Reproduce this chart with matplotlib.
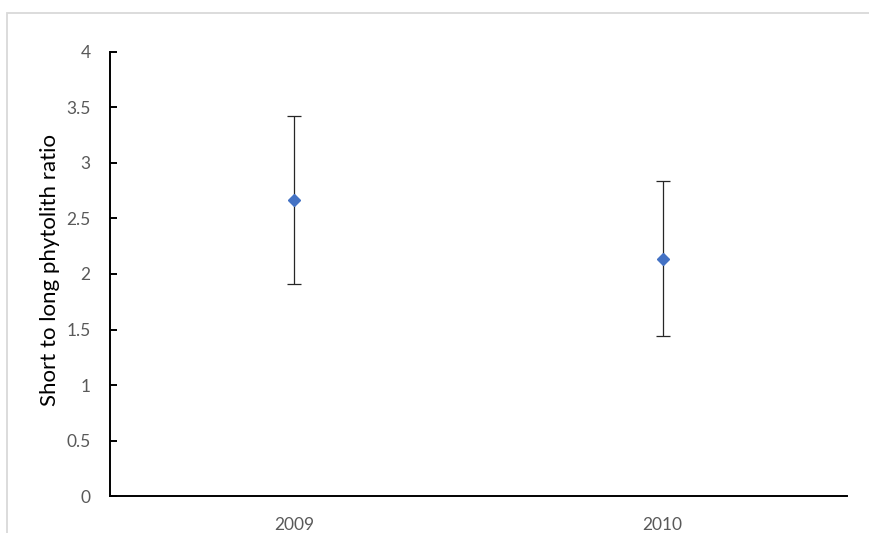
import matplotlib
matplotlib.use("Agg")
import matplotlib.pyplot as plt
from matplotlib.patches import Rectangle

years = ["2009", "2010"]
ratio_mean = [2.666, 2.138]
ratio_err = [0.757, 0.696]
y_ticks = [0, 0.5, 1, 1.5, 2, 2.5, 3, 3.5, 4]
y_tick_labels = ["0", "0.5", "1", "1.5", "2", "2.5", "3", "3.5", "4"]

plt.rcParams['font.family'] = ['Lato', 'DejaVu Sans']

W, H = 869, 533
fig = plt.figure(figsize=(W / 100, H / 100), dpi=100)

# chart area outline (light gray)
fig.add_artist(Rectangle((7 / W, -0.1), 1.2, (H - 12.5) / H + 0.1,
                         transform=fig.transFigure, fill=False,
                         edgecolor='#D9D9D9', linewidth=1.3))

ax_left, ax_right, ax_top, ax_bottom = 110, 846.7, 51.7, 496.2
ax = fig.add_axes([ax_left / W, 1 - ax_bottom / H,
                   (ax_right - ax_left) / W, (ax_bottom - ax_top) / H])

x = list(range(len(years)))
ax.errorbar(x, ratio_mean, yerr=ratio_err, fmt='D', color='#4472C4',
            markersize=6.5, ecolor='#262626', elinewidth=0.9,
            capsize=4.7, capthick=0.9, zorder=3)

ax.set_xlim(-0.5, len(years) - 0.5)
ax.set_ylim(0, 4)
ax.set_xticks(x)
ax.set_xticklabels(years)
ax.set_yticks(y_ticks)
ax.set_yticklabels(y_tick_labels)

for s in ['top', 'right']:
    ax.spines[s].set_visible(False)
for s in ['left', 'bottom']:
    ax.spines[s].set_linewidth(1.4)
    ax.spines[s].set_color('black')

ax.tick_params(axis='y', direction='in', length=5, width=1.4, color='black',
               pad=14, labelsize=12.5, labelcolor='#595959')
ax.tick_params(axis='x', length=0, pad=15, labelsize=12.5, labelcolor='#595959')

ax.set_ylabel("Short to long phytolith ratio", fontsize=16, color='black')
ax.yaxis.label.set_verticalalignment('center')
ax.yaxis.set_label_coords((50 - ax_left) / (ax_right - ax_left),
                          (ax_bottom - 270) / (ax_bottom - ax_top))

fig.savefig("out.png", dpi=100)
